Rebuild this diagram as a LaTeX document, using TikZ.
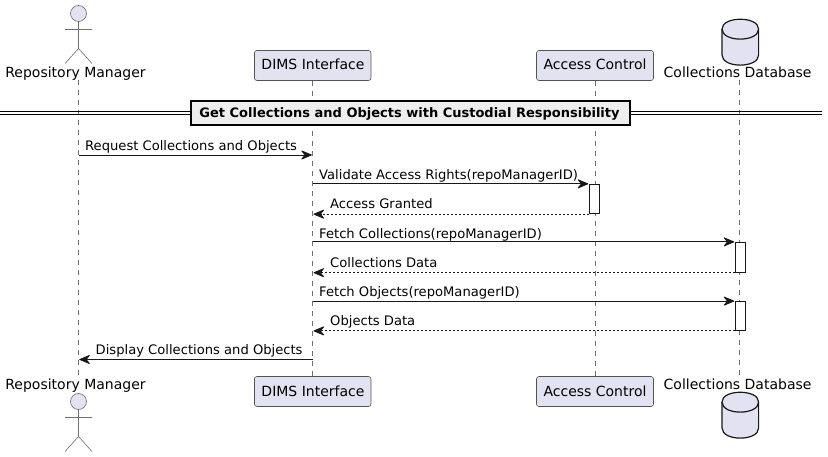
\documentclass[tikz,border=0pt]{standalone}
\usepackage{fontspec}
\setmainfont{DejaVu Sans}
\usetikzlibrary{arrows.meta}
\definecolor{partfill}{HTML}{E2E2F0}
\definecolor{ink}{HTML}{181818}
\definecolor{lifegray}{HTML}{707070}
\definecolor{dividerfill}{HTML}{EEEEEE}
\tikzset{
  partbox/.style={draw=ink!75,line width=0.6pt,fill=partfill,rounded corners=2.5pt,inner sep=0pt,minimum width=#1,minimum height=30pt,font=\fontsize{14}{16}\selectfont,text=black},
  partlabel/.style={anchor=base,inner sep=0pt,font=\fontsize{14}{16}\selectfont,text=black},
  msglabel/.style={anchor=base west,inner sep=0pt,font=\fontsize{13.12}{15}\selectfont,text=black},
  lifeline/.style={draw=lifegray,line width=0.6pt,dash pattern=on 5pt off 5pt},
  call/.style={draw=ink,line width=0.8pt,shorten >=0.8pt,-{Stealth[length=12pt,width=10pt,inset=4pt,round]}},
  reply/.style={draw=ink,line width=0.8pt,shorten >=0.8pt,dash pattern=on 2pt off 2pt,-{Stealth[length=12pt,width=10pt,inset=4pt,round]}},
  activation/.style={draw=ink,line width=0.8pt,fill=white,inner sep=0pt,minimum width=10pt},
  actorstroke/.style={draw=ink!62,line width=0.6pt},
  dbstroke/.style={draw=ink,line width=1.2pt},
  rail/.style={draw=black,line width=1pt},
}
\newcommand{\actorfig}[2]{%
  \fill[partfill] (#1,#2) circle (8pt);
  \draw[actorstroke] (#1,#2) circle (8pt);
  \draw[actorstroke] (#1,#2+8) -- (#1,#2+35) (#1-13.5,#2+16) -- (#1+13.5,#2+16)
    (#1-13.5,#2+50) -- (#1,#2+35) -- (#1+13.5,#2+50);
}
\newcommand{\dbfig}[2]{%
  \path[fill=partfill,dbstroke] (#1-18.3,#2+10) .. controls (#1-18.3,#2-3) and (#1+18.3,#2-3) .. (#1+18.3,#2+10)
    -- (#1+18.3,#2+36) .. controls (#1+18.3,#2+49.5) and (#1-18.3,#2+49.5) .. (#1-18.3,#2+36) -- cycle;
  \draw[dbstroke] (#1-18.3,#2+10) .. controls (#1-18.3,#2+23.5) and (#1+18.3,#2+23.5) .. (#1+18.3,#2+10);
}
\begin{document}
\begin{tikzpicture}[x=1pt,y=-1pt]
\useasboundingbox (0,0) rectangle (828,457);

% lifeline ends
\coordinate (mgrTop) at (78.5,80);
\coordinate (mgrBot) at (78.5,377);
\coordinate (dbTop) at (739.5,80);
\coordinate (dbBot) at (739.5,377);

% participants
\node[partbox=116.5pt] (dimsT) at (312.7,65.5) {};
\node[partbox=116.5pt] (dimsB) at (312.7,391.5) {};
\node[partbox=117pt] (acT) at (595,65.5) {};
\node[partbox=117pt] (acB) at (595,391.5) {};

% lifelines
\draw[lifeline] (mgrTop) -- (mgrBot);
\draw[lifeline] (dimsT.south) -- (dimsB.north);
\draw[lifeline] (acT.south) -- (acB.north);
\draw[lifeline] (dbTop) -- (dbBot);

% participant texts
\node[partlabel] at (313,70) {DIMS Interface};
\node[partlabel] at (313,396) {DIMS Interface};
\node[partlabel] at (595,70) {Access Control};
\node[partlabel] at (595,396) {Access Control};

% actors and databases
\actorfig{78.5}{13.5}
\actorfig{78.5}{401.5}
\dbfig{740.3}{19}
\dbfig{740.3}{392}
\node[partlabel] (mgrLabT) at (75.5,78) {Repository Manager};
\node[partlabel] (mgrLabB) at (75.5,389) {Repository Manager};
\node[partlabel] (dbLabT) at (737.6,78) {Collections Database};
\node[partlabel] (dbLabB) at (737.6,389) {Collections Database};

% divider
\coordinate (railLeft) at (0,0);
\coordinate (railRight) at (821.7,0);
\draw[rail] (railLeft |- 0,111.5) -- (railRight |- 0,111.5);
\draw[rail] (railLeft |- 0,115) -- (railRight |- 0,115);
\node[draw=black,line width=1.6pt,fill=dividerfill,minimum width=439pt,minimum height=24pt,inner sep=0pt] (divider) at (410.7,113) {};
\node[anchor=base,inner sep=0pt,font=\fontsize{13}{15}\selectfont\bfseries] (dividerText) at (409.5,117.5) {Get Collections and Objects with Custodial Responsibility};

% activations
\node[activation,minimum height=29.5pt] (a1) at (594.5,199) {};
\node[activation,minimum height=30pt] (a2) at (740.5,257.3) {};
\node[activation,minimum height=29pt] (a3) at (740.5,316) {};

% message ends
\coordinate (m1a) at (mgrTop |- 0,155);
\coordinate (m1b) at (dimsT.south |- 0,155);
\coordinate (m2a) at (dimsT.south |- a1.north);
\coordinate (m3a) at (dimsT.south |- a1.south);
\coordinate (m4a) at (dimsT.south |- a2.north);
\coordinate (m5a) at (dimsT.south |- a2.south);
\coordinate (m6a) at (dimsT.south |- a3.north);
\coordinate (m7a) at (dimsT.south |- a3.south);
\coordinate (m8a) at (dimsT.south |- 0,359.5);
\coordinate (m8b) at (mgrTop |- 0,359.5);

% messages
\draw[call] (m1a) -- (m1b);
\draw[call] (m2a) -- (a1.north west);
\draw[reply] (a1.south west) -- (m3a);
\draw[call] (m4a) -- (a2.north west);
\draw[reply] (a2.south west) -- (m5a);
\draw[call] (m6a) -- (a3.north west);
\draw[reply] (a3.south west) -- (m7a);
\draw[call] (m8a) -- (m8b);

% message texts
\node[msglabel] at (85,150.3) {Request Collections and Objects};
\node[msglabel] at (319,179.5) {Validate Access Rights(repoManagerID)};
\node[msglabel] at (330,208.8) {Access Granted};
\node[msglabel] at (319,238.3) {Fetch Collections(repoManagerID)};
\node[msglabel] at (330,267.5) {Collections Data};
\node[msglabel] at (319,297) {Fetch Objects(repoManagerID)};
\node[msglabel] at (330,325.8) {Objects Data};
\node[msglabel] at (95.5,354.8) {Display Collections and Objects};
\end{tikzpicture}
\end{document}
